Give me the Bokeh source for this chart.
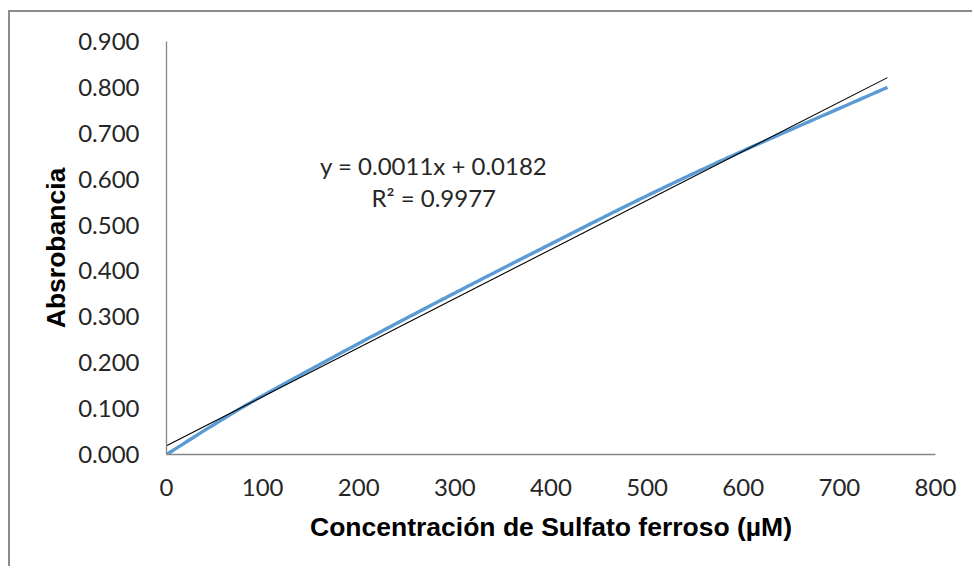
import numpy as np
from bokeh.plotting import figure
from bokeh.models import Label, NumeralTickFormatter, FixedTicker, Range1d
from bokeh.embed import file_html
from bokeh.resources import INLINE

# Ferrous sulfate calibration data
concentracion = [0, 50, 100, 200, 300, 400, 500, 600, 750]          # µM
absorbancia = [0.000, 0.066, 0.128, 0.242, 0.352, 0.459, 0.564, 0.662, 0.800]

x_ticks = [0, 100, 200, 300, 400, 500, 600, 700, 800]
y_ticks = [0.0, 0.1, 0.2, 0.3, 0.4, 0.5, 0.6, 0.7, 0.8, 0.9]
ecuacion = "y = 0.0011x + 0.0182"
r_cuadrado = "R² = 0.9977"

xd = np.array(concentracion, dtype=float)
yd = np.array(absorbancia, dtype=float)


def catmull_rom(x, y, n=30):
    """Smoothed line through every data point (Catmull-Rom segments)."""
    px = np.concatenate([[2 * x[0] - x[1]], x, [2 * x[-1] - x[-2]]])
    py = np.concatenate([[2 * y[0] - y[1]], y, [2 * y[-1] - y[-2]]])
    out_x, out_y = [], []
    t = np.linspace(0, 1, n, endpoint=False)
    for i in range(1, len(px) - 2):
        p0, p1, p2, p3 = (np.array([px[j], py[j]]) for j in range(i - 1, i + 3))
        for tt in t:
            pt = 0.5 * ((2 * p1) + (-p0 + p2) * tt
                        + (2 * p0 - 5 * p1 + 4 * p2 - p3) * tt ** 2
                        + (-p0 + 3 * p1 - 3 * p2 + p3) * tt ** 3)
            out_x.append(pt[0])
            out_y.append(pt[1])
    out_x.append(x[-1])
    out_y.append(y[-1])
    return out_x, out_y


sx, sy = catmull_rom(xd, yd)

# Linear trendline from least squares
slope, intercept = np.polyfit(xd, yd, 1)
tx = np.array([xd[0], xd[-1]])
ty = slope * tx + intercept

p = figure(
    frame_width=769, frame_height=413,
    min_border_left=156, min_border_right=37,
    min_border_top=29, min_border_bottom=112,
    x_range=Range1d(0, 800), y_range=Range1d(0, 0.9),
    output_backend="svg", toolbar_location=None,
)
p.styles = {
    "margin-left": "8px",
    "margin-top": "10px",
    "border-left": "2px solid #8c8c8c",
    "border-top": "2px solid #8c8c8c",
}
p.outline_line_color = None
p.grid.visible = False
p.background_fill_color = "white"
p.border_fill_color = "white"

p.line(sx, sy, line_color="#5B9BD5", line_width=3.4)
p.line(tx, ty, line_color="#000000", line_width=1.1)

tick_font = "Lato"
for ax in (p.xaxis[0], p.yaxis[0]):
    ax.axis_line_color = "#868686"
    ax.axis_line_width = 1.3
    ax.major_tick_line_color = None
    ax.minor_tick_line_color = None
    ax.major_label_text_font = tick_font
    ax.major_label_text_font_size = "24px"
    ax.major_label_text_color = "#262626"
    ax.axis_label_text_font = "Liberation Sans"
    ax.axis_label_text_font_style = "bold"
    ax.axis_label_text_font_size = "26.5px"
    ax.axis_label_text_color = "#000000"

p.xaxis.ticker = FixedTicker(ticks=x_ticks)
p.yaxis.ticker = FixedTicker(ticks=y_ticks)
p.yaxis.formatter = NumeralTickFormatter(format="0.000")
p.xaxis.formatter = NumeralTickFormatter(format="0")
p.xaxis.major_label_standoff = 18
p.yaxis.major_label_standoff = 21
p.xaxis.axis_label = "Concentración de Sulfato ferroso (µM)"
p.yaxis.axis_label = "Absrobancia"
p.xaxis.axis_label_standoff = 13
p.yaxis.axis_label_standoff = 4

for txt, yy in ((ecuacion, 0.630), (r_cuadrado, 0.560)):
    p.add_layout(Label(
        x=278, y=yy, text=txt, text_align="center", text_baseline="middle",
        text_font=tick_font, text_font_size="24px", text_color="#262626",
    ))

open("out.html", "w").write(file_html(p, INLINE))
